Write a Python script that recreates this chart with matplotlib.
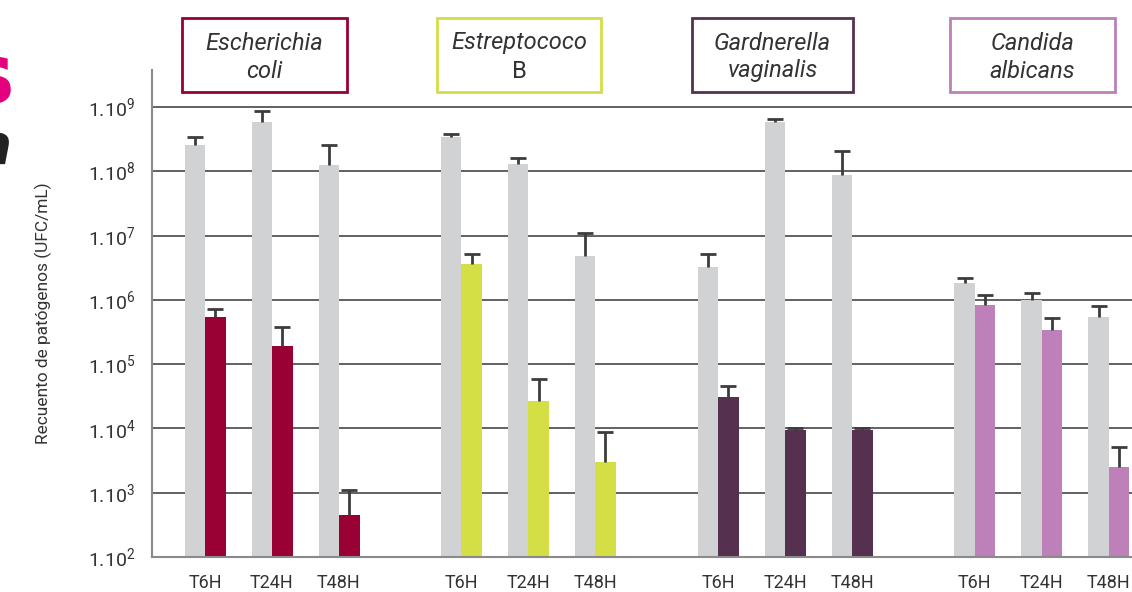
import numpy as np
import matplotlib.pyplot as plt
from matplotlib.patches import Rectangle

plt.rcParams['font.family'] = ['Roboto', 'DejaVu Sans']
plt.rcParams['mathtext.fontset'] = 'custom'
plt.rcParams['mathtext.rm'] = 'Roboto'

# data (UFC/mL)
times = ['T6H', 'T24H', 'T48H']
pathogens = ['Escherichia\ncoli', 'Estreptococo\nB', 'Gardnerella\nvaginalis', 'Candida\nalbicans']
control = [[2.6e8, 5.8e8, 1.25e8],
           [3.4e8, 1.3e8, 4.8e6],
           [3.2e6, 5.9e8, 8.7e7],
           [1.8e6, 1.0e6, 5.4e5]]
control_err = [[3.4e8, 8.7e8, 2.6e8],
               [3.8e8, 1.6e8, 1.1e7],
               [5.1e6, 6.5e8, 2.1e8],
               [2.2e6, 1.3e6, 8.1e5]]
treated = [[5.4e5, 1.9e5, 4.5e2],
           [3.6e6, 2.7e4, 3.0e3],
           [3.1e4, 9.5e3, 9.5e3],
           [8.3e5, 3.4e5, 2.5e3]]
treated_err = [[7.2e5, 3.8e5, 1.1e3],
               [5.1e6, 5.9e4, 8.9e3],
               [4.6e4, 1.0e4, 1.0e4],
               [1.2e6, 5.2e5, 5.1e3]]

colors = ['#990033', '#d4df45', '#55304f', '#bd80b8']
gray = '#d1d2d4'
errc = '#3c3c3c'

fig = plt.figure(figsize=(11.32, 5.92), dpi=100)
ax = fig.add_axes([152/1132, 1 - 557/592, 1 - 152/1132, (557 - 70)/592])

w = 0.30
gap = 3.83
tick_pos = []
for g in range(4):
    x = g*gap + np.arange(3)
    tick_pos.extend(x)
    ax.bar(x - w/2, control[g], width=w, color=gray, zorder=2)
    ax.bar(x + w/2 + 0.005, treated[g], width=w + 0.01, color=colors[g], zorder=2)
    # upper whiskers only
    for xs, lo, hi in [(x - w/2, control[g], control_err[g]), (x + w/2, treated[g], treated_err[g])]:
        ax.vlines(xs, lo, hi, color=errc, lw=2, zorder=3)
        ax.plot(xs, hi, ls='none', marker='_', ms=11, mew=2, color=errc, zorder=3)

ax.set_yscale('log')
ax.set_ylim(1e2, 10**9.575)
ax.set_xlim(-0.79, 13.84)
ax.set_yticks([10.0**k for k in range(2, 10)])
ax.set_yticklabels(['1.10$^{%d}$' % k for k in range(2, 10)])
ax.minorticks_off()
ax.set_xticks(tick_pos)
ax.set_xticklabels(times * 4)
ax.tick_params(length=0, labelsize=13, colors='#333333', pad=10)
ax.tick_params(axis='y', labelsize=14, pad=12)
ax.tick_params(axis='x', pad=12)
ax.grid(axis='y', color='#555555', lw=1.3, zorder=0)
for s in ['top', 'right']:
    ax.spines[s].set_visible(False)
for s in ['left', 'bottom']:
    ax.spines[s].set_color('#8a8a8a')
    ax.spines[s].set_linewidth(1.5)
ax.set_ylabel('Recuento de patógenos (UFC/mL)', fontsize=12.5, color='#333333', labelpad=26)

# header boxes
boxes = [(182, 347), (437, 601), (692, 853), (950, 1115)]
for (x0, x1), name, c in zip(boxes, pathogens, colors):
    fig.patches.append(Rectangle((x0/1132, 1 - 92/592), (x1 - x0)/1132, 74/592,
                                 transform=fig.transFigure, fill=False, ec=c, lw=2))
    top, bottom = name.split('\n')
    fig.text((x0 + x1)/2/1132, 1 - 43/592, top, ha='center', va='center', fontsize=17,
             style='italic', color='#333333')
    fig.text((x0 + x1)/2/1132, 1 - 71/592, bottom, ha='center', va='center', fontsize=17,
             style='normal' if bottom == 'B' else 'italic', color='#333333')

# cut-off title fragments at the left edge, as in the source image
fig.text(14/1132, 1 - 80/592, 's', ha='right', va='center', fontsize=60, fontweight='bold',
         color='#e5007d', family=['DejaVu Sans'])
fig.text(12/1132, 1 - 148/592, 'a', ha='right', va='center', fontsize=40, fontweight='bold',
         style='italic', color='#222222', family=['DejaVu Sans'])

fig.savefig('out.png', dpi=100)
